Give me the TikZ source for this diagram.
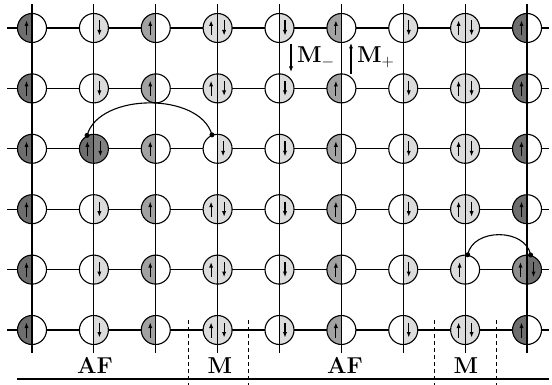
\RequirePackage{fix-cm}
\documentclass[tikz,border=0pt]{standalone}
\usetikzlibrary{arrows.meta}
\definecolor{dk}{HTML}{6E6E6E}
\definecolor{md}{HTML}{A2A2A2}
\definecolor{lt}{HTML}{DCDCDC}
\definecolor{dkb}{HTML}{808080}
\definecolor{mdk}{HTML}{8E8E8E}
\tikzset{
  grid/.style={line width=1.1pt},
  site/.style 2 args={circle,minimum size=29pt,inner sep=0pt,draw,line width=1.1pt,fill=white,
    path picture={\fill[fill=#1] (path picture bounding box.south west) rectangle (path picture bounding box.north);
                  \fill[fill=#2] (path picture bounding box.south east) rectangle (path picture bounding box.north);}},
  spin/.style={line width=1.05pt,-{Latex[length=5.5pt,width=4.2pt]}},
  link/.style={line width=1.1pt},
  dotm/.style={fill,circle,inner sep=0pt,minimum size=5pt},
  lbl/.style={font=\fontsize{23}{27}\selectfont\bfseries,anchor=base,inner sep=0pt},
  sep/.style={line width=0.9pt,dash pattern=on 4pt off 3pt},
}
\newcommand\spinu[1]{\draw[spin] ([xshift=-5.5pt,yshift=-7.5pt]#1.center) -- ([xshift=-5.5pt,yshift=7.5pt]#1.center);}
\newcommand\spind[1]{\draw[spin] ([xshift=5.5pt,yshift=7.5pt]#1.center) -- ([xshift=5.5pt,yshift=-7.5pt]#1.center);}
\newcommand\spinud[1]{\draw[spin] ([xshift=-6.5pt,yshift=-7.5pt]#1.center) -- ([xshift=-6.5pt,yshift=7.5pt]#1.center);
  \draw[spin] ([xshift=6.5pt,yshift=7.5pt]#1.center) -- ([xshift=6.5pt,yshift=-7.5pt]#1.center);}
\begin{document}
\begin{tikzpicture}[x=1pt,y=-1pt]
\useasboundingbox (0,0) rectangle (552,385);
% horizontal lines
\foreach \r/\y in {1/28,2/88.4,3/148.8,4/209.2,5/269.6,6/330}{
  \coordinate (hl\r) at (7,\y); \coordinate (hr\r) at (549,\y);
  \draw[grid] (hl\r) -- (hr\r);}
% sites
\foreach \c/\x/\L/\R in {1/32/dk/white,2/93.9/white/lt,3/155.75/md/white,4/217.6/lt/lt,5/279.5/white/lt,6/341.4/md/white,7/403.25/white/lt,8/465.1/lt/lt,9/527/dk/white}{
  \foreach \r/\y in {1/28,2/88.4,3/148.8,4/209.2,5/269.6,6/330}{
    \pgfmathtruncatemacro\sk{(\c==2&&\r==3)||(\c==4&&\r==3)||(\c==8&&\r==5)||(\c==9&&\r==5)}
    \ifnum\sk=0 \node[site={\L}{\R}] (s\c-\r) at (\x,\y) {};\fi
  }}
\node[site={dk}{dkb}] (s2-3) at (93.9,148.8) {};
\node[site={white}{lt}] (s4-3) at (217.6,148.8) {};
\node[site={lt}{white}] (s8-5) at (465.1,269.6) {};
\node[site={mdk}{dk}] (s9-5) at (527,269.6) {};
% vertical lines
\foreach \c/\x in {1/32,2/93.9,3/155.75,4/217.6,5/279.5,6/341.4,7/403.25,8/465.1,9/527}{
  \coordinate (vt\c) at (\x,4); \coordinate (vb\c) at (\x,353);
  \draw[grid] (vt\c) -- (vb\c);}
% spins
\foreach \c/\a in {1/u,2/d,3/u,4/ud,5/d,6/u,7/d,8/ud,9/u}{
  \foreach \r in {1,...,6}{
    \pgfmathtruncatemacro\sk{(\c==2&&\r==3)||(\c==4&&\r==3)||(\c==8&&\r==5)||(\c==9&&\r==5)}
    \ifnum\sk=0 \csname spin\a\endcsname{s\c-\r}\fi
  }}
\spinud{s2-3}
\spind{s4-3}
\spinu{s8-5}
\spinud{s9-5}
% hopping arcs
\node[dotm] (p1) at (s2-3.117) {};
\node[dotm] (p2) at (s4-3.112) {};
\draw[link] (p1.center) .. controls +(12,-43) and +(-12,-43) .. (p2.center);
\node[dotm] (p3) at (s8-5.80) {};
\node[dotm] (p4) at (s9-5.76) {};
\draw[link] (p3.center) .. controls +(5,-27) and +(-5,-27) .. (p4.center);
% M- / M+ labels
\coordinate (mm1) at (291,44); \coordinate (mm2) at (291,72);
\draw[spin] (mm1) -- (mm2);
\node[lbl,anchor=base west] (mminus) at (297,63) {$\mathbf{M}_-$};
\coordinate (mp1) at (351,74); \coordinate (mp2) at (351,43);
\draw[spin] (mp1) -- (mp2);
\node[lbl,anchor=base west] (mplus) at (357,63) {$\mathbf{M}_+$};
% bottom separators
\foreach \i/\x in {1/188,2/248,3/434,4/496}{
  \coordinate (dt\i) at (\x,320); \coordinate (db\i) at (\x,385);
  \draw[sep] (dt\i) -- (db\i);}
\coordinate (bl) at (17,379); \coordinate (br) at (549,379);
\draw[grid] (bl) -- (br);
\node[lbl] (af1) at (95,373) {AF};
\node[lbl] (m1) at (220,373) {M};
\node[lbl] (af2) at (345,373) {AF};
\node[lbl] (m2) at (466,373) {M};
\end{tikzpicture}
\end{document}
